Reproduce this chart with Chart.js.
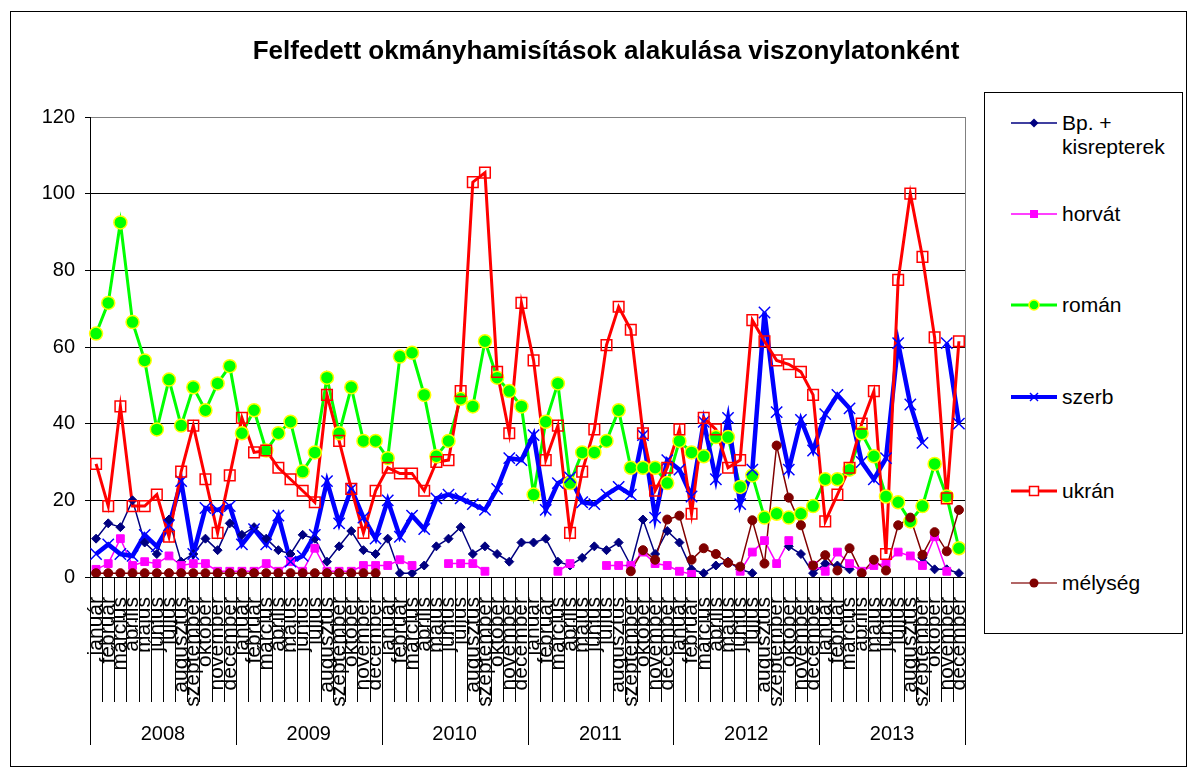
<!DOCTYPE html>
<html><head><meta charset="utf-8">
<script src="https://cdn.jsdelivr.net/npm/chart.js@4.4.0/dist/chart.umd.min.js"></script>
<style>
html,body{margin:0;padding:0;background:#fff;}
#wrap{position:relative;width:1194px;height:769px;overflow:hidden;font-family:"Liberation Sans",Arial,sans-serif;color:#000;}
#frame{position:absolute;left:10px;top:11px;width:1177px;height:756px;border:1px solid #000;box-sizing:border-box;}
#c{position:absolute;left:0;top:0;}
#title{position:absolute;left:0;width:1212px;top:37px;text-align:center;font-weight:bold;font-size:26px;line-height:26px;white-space:nowrap;}
#legend{position:absolute;left:984px;top:92px;width:199px;height:542px;border:1px solid #000;box-sizing:border-box;background:#fff;}
.item{position:absolute;left:0;width:197px;}
.item svg{position:absolute;left:26px;top:-10px;}
.item span{position:absolute;left:77px;top:-12.5px;font-size:21px;line-height:24.5px;white-space:nowrap;}
</style></head>
<body>
<div id="wrap">
<div id="frame"></div>
<canvas id="c" width="1194" height="769"></canvas>
<div id="title">Felfedett okmányhamisítások alakulása viszonylatonként</div>
<div id="legend">
 <div class="item" style="top:30px"><svg width="46" height="20"><line x1="0" y1="10" x2="46" y2="10" stroke="#000080" stroke-width="1.5"/><polygon points="23,5.5 27.5,10 23,14.5 18.5,10" fill="#000080"/></svg><span>Bp. +<br>kisrepterek</span></div>
 <div class="item" style="top:121px"><svg width="46" height="20"><line x1="0" y1="10" x2="46" y2="10" stroke="#FF00FF" stroke-width="1.5"/><rect x="19" y="6" width="8" height="8" fill="#FF00FF"/></svg><span>horvát</span></div>
 <div class="item" style="top:212px"><svg width="46" height="20"><line x1="0" y1="10" x2="46" y2="10" stroke="#00FF00" stroke-width="3"/><circle cx="23" cy="10" r="5" fill="#00FF00" stroke="#FFFF00" stroke-width="1.5"/></svg><span>román</span></div>
 <div class="item" style="top:304px"><svg width="46" height="20"><line x1="0" y1="10" x2="46" y2="10" stroke="#0000FF" stroke-width="4"/><line x1="19" y1="6" x2="27" y2="14" stroke="#0000FF" stroke-width="1.5"/><line x1="27" y1="6" x2="19" y2="14" stroke="#0000FF" stroke-width="1.5"/></svg><span>szerb</span></div>
 <div class="item" style="top:398px"><svg width="46" height="20"><line x1="0" y1="10" x2="46" y2="10" stroke="#FF0000" stroke-width="3"/><rect x="18.5" y="5.5" width="9" height="9" fill="#fff" stroke="#FF0000" stroke-width="1.5"/></svg><span>ukrán</span></div>
 <div class="item" style="top:490px"><svg width="46" height="20"><line x1="0" y1="10" x2="46" y2="10" stroke="#993333" stroke-width="1.5"/><circle cx="23" cy="10" r="4.5" fill="#800000"/></svg><span>mélység</span></div>
</div>
</div>
<script>
const months = ['január','február','március','április','május','június','július','augusztus','szeptember','október','november','december'];
const years = ['2008','2009','2010','2011','2012','2013'];
const yTicks = [0,20,40,60,80,100,120];

const bp = [10,14,13,20,9,6,15,4,6,10,7,14,
            11,13,10,7,6,11,10,4,8,12,7,6,
            10,1,1,3,8,10,13,6,8,6,4,9,
            9,10,4,3,5,8,7,9,3,15,6,12,
            9,2,1,3,4,2,1,null,null,8,6,1,
            3.5,3,2,null,null,null,null,null,5,2,2,1];
const horvat = [2,3.5,10,3,4,3.5,5.5,3,3.5,3.5,1.5,1.5,
            1.5,1.5,3.5,1.5,4,1.5,7.5,1.5,1.5,1.5,3,3,
            3,4.5,3,null,null,3.5,3.5,3.5,1.5,null,null,null,
            null,null,1.5,3.5,null,null,3,3,3,6.5,3.5,3,
            1.5,0.7,null,null,null,1.5,6.5,9.5,3.5,9.5,null,3,
            1.5,6.5,3.5,1.5,3,3.5,6.5,5.5,3,10.5,1.5,null];
const roman = [63.5,71.5,92.5,66.5,56.5,38.5,51.5,39.5,49.5,43.5,50.5,55,
            37.5,43.5,33,37.5,40.5,27.5,32.5,52,37.5,49.5,35.5,35.5,
            31,57.5,58.5,47.5,31.5,35.5,46.5,44.5,61.5,52,48.5,44.5,
            21.5,40.5,50.5,24.5,32.5,32.5,35.5,43.5,28.5,28.5,28.5,24.5,
            35.5,32.5,31.5,36.5,36.5,23.5,26.5,15.5,16.5,15.5,16.5,18.5,
            25.5,25.5,28,37.5,31.5,21,19.5,14.5,18.5,29.5,21,7.5];
const szerb = [6,8.5,6,5.5,11,8,13.5,25,6,18,17.5,18.5,
            8.5,12.5,8.5,16,4,5.5,11,25,14,23,15.5,10,
            20,10.5,16,12.5,20.5,21.5,20.5,19,17.5,23,31,30.5,
            37,17.5,24.5,26,19.5,19,21.5,23.5,21.5,37,15.5,30.5,
            28,21,40.5,25.5,41.5,19,28,69,43,28,41,33,
            42.5,47.5,44,30,25.5,31,61,45,35,null,61,40];
const ukran = [29.5,18.5,44.5,18.5,18.5,21.5,10.5,27.5,39.5,25.5,11.5,26.5,
            41.5,32.5,33,28.5,25.5,22.5,19.5,47.5,35.5,23,11.5,22.5,
            28.5,27,27,22.5,30,30.5,48.5,103,105.5,53.5,37.5,71.5,
            56.5,30.5,39.5,11.5,27.5,38.5,60.5,70.5,64.5,37.5,22.5,28.5,
            38.5,16.5,41.5,38.5,28.5,30.5,67,61.5,56.5,55.5,53.5,47.5,
            14.5,21.5,28.5,40,48.5,6,77.5,100,83.5,62.5,20.5,61.5];
const melyseg = [1,1,1,1,1,1,1,1,1,1,1,1,
            1,1,1,1,1,1,1,1,1,1,1,1,
            null,null,null,null,null,null,null,null,null,null,null,null,
            null,null,null,null,null,null,null,null,1.5,7,4.5,15,
            16,4.5,7.5,6,3.7,2.7,14.8,3.5,34.3,20.7,13.5,3,
            5.7,1.7,7.5,1,4.5,1.7,13.5,15.5,5.8,11.7,6.7,17.5];

const categories = [];
years.forEach(() => months.forEach(m => categories.push(m)));

const seriesDefs = [
  {label:'Bp. + kisrepterek', data:bp, color:'#000080', lw:1.5, style:'rectRot', r:4.5, fill:'#000080', border:'#000080', bw:1},
  {label:'horvát', data:horvat, color:'#FF00FF', lw:1.5, style:'rect', r:5.5, fill:'#FF00FF', border:'#FF00FF', bw:1},
  {label:'román', data:roman, color:'#00FF00', lw:3, style:'circle', r:6.5, fill:'#00FF00', border:'#FFFF00', bw:1.5},
  {label:'szerb', data:szerb, color:'#0000FF', lw:4.5, style:'crossRot', r:8, fill:'#0000FF', border:'#0000FF', bw:1.5},
  {label:'ukrán', data:ukran, color:'#FF0000', lw:3, style:'rect', r:7.5, fill:'rgba(0,0,0,0)', border:'#FF0000', bw:1.5},
  {label:'mélység', data:melyseg, color:'#800000', lw:1.5, style:'circle', r:4.5, fill:'#800000', border:'#800000', bw:1}
];
const n = seriesDefs.length;
const datasets = [];
seriesDefs.forEach((s, k) => {
  datasets.push({label:s.label, data:s.data, borderColor:s.color, backgroundColor:s.color, borderWidth:s.lw,
    pointRadius:0, pointHoverRadius:0, tension:0, fill:false, order: 2*n - k});
});
seriesDefs.forEach((s, k) => {
  datasets.push({label:s.label + ' ', data:s.data, showLine:false, pointStyle:s.style, pointRadius:s.r, pointHoverRadius:s.r,
    pointBackgroundColor:s.fill, pointBorderColor:s.border, pointBorderWidth:s.bw, borderColor:s.border, backgroundColor:s.fill, order: n - k});
});

const multiLevel = {
  id:'multiLevel',
  afterDraw(chart){
    const {ctx, chartArea, scales:{x}} = chart;
    const half = (x.getPixelForValue(1) - x.getPixelForValue(0)) / 2;
    ctx.save();
    ctx.strokeStyle = '#000'; ctx.lineWidth = 1;
    for (let i = 0; i <= categories.length; i++) {
      const p = i < categories.length ? x.getPixelForValue(i) - half : x.getPixelForValue(i - 1) + half;
      const px = Math.round(p) + 0.5;
      const isYear = i % months.length === 0;
      ctx.beginPath(); ctx.moveTo(px, chartArea.bottom); ctx.lineTo(px, isYear ? 745 : 702); ctx.stroke();
    }
    ctx.strokeStyle = '#808080';
    ctx.beginPath(); ctx.moveTo(Math.round(chartArea.right) + 0.5, chartArea.top); ctx.lineTo(Math.round(chartArea.right) + 0.5, chartArea.bottom); ctx.stroke();
    ctx.fillStyle = '#000'; ctx.font = '20px "Liberation Sans", Arial, sans-serif';
    ctx.textAlign = 'center'; ctx.textBaseline = 'alphabetic';
    years.forEach((y, k) => {
      const a = x.getPixelForValue(k * 12) - half, b = x.getPixelForValue(k * 12 + 11) + half;
      ctx.fillText(y, (a + b) / 2, 740);
    });
    ctx.restore();
  }
};

new Chart(document.getElementById('c'), {
  type:'line',
  data:{labels:categories, datasets},
  options:{
    responsive:false, animation:false, devicePixelRatio:1,
    layout:{padding:{left:0, top:117, right:229, bottom:0}},
    plugins:{legend:{display:false}, title:{display:false}, tooltip:{enabled:false}},
    scales:{
      x:{type:'category', offset:true, grid:{display:false}, border:{display:true, color:'#000', width:1},
         ticks:{autoSkip:false, minRotation:90, maxRotation:90, padding:12, color:'#000', font:{family:'"Liberation Sans", Arial, sans-serif', size:21}},
         afterFit(s){ s.height = 192; }},
      y:{min:0, max:120,
         afterBuildTicks(s){ s.ticks = yTicks.map(v => ({value:v})); },
         grid:{color:c => (c.tick && c.tick.value === 120) ? '#808080' : '#000', lineWidth:1, drawTicks:true, tickLength:5, tickColor:'#000'},
         border:{display:true, color:'#000', width:1},
         ticks:{padding:10, color:'#000', font:{family:'"Liberation Sans", Arial, sans-serif', size:20}},
         afterFit(s){ s.width = 90; }}
    }
  },
  plugins:[multiLevel]
});
</script>
</body></html>
